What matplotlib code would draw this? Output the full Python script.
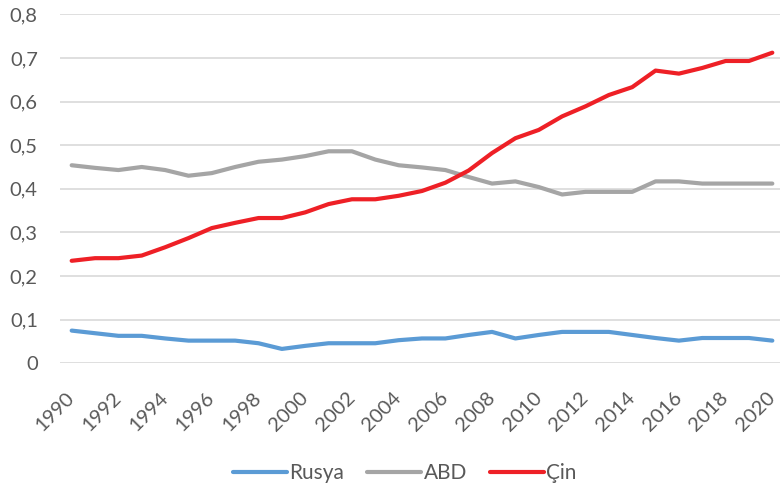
import matplotlib
matplotlib.use("Agg")
import matplotlib.pyplot as plt
from matplotlib.ticker import FuncFormatter

years = list(range(1990, 2021))
rusya = [0.075, 0.069, 0.063, 0.063, 0.057, 0.052, 0.052, 0.052, 0.046, 0.033,
         0.040, 0.046, 0.046, 0.046, 0.053, 0.057, 0.057, 0.065, 0.072, 0.057,
         0.065, 0.072, 0.072, 0.072, 0.065, 0.058, 0.052, 0.058, 0.058, 0.058, 0.052]
abd = [0.454, 0.448, 0.443, 0.450, 0.443, 0.430, 0.436, 0.450, 0.462, 0.467,
       0.475, 0.486, 0.486, 0.467, 0.454, 0.449, 0.443, 0.427, 0.412, 0.417,
       0.404, 0.387, 0.393, 0.393, 0.393, 0.417, 0.417, 0.412, 0.412, 0.412, 0.412]
cin = [0.235, 0.241, 0.241, 0.247, 0.266, 0.287, 0.310, 0.322, 0.333, 0.333,
       0.346, 0.365, 0.376, 0.376, 0.384, 0.395, 0.414, 0.442, 0.482, 0.516,
       0.535, 0.566, 0.589, 0.615, 0.633, 0.671, 0.664, 0.677, 0.693, 0.693, 0.712]

plt.rcParams['font.family'] = ['Lato', 'DejaVu Sans']
TXT = '#595959'

fig = plt.figure(figsize=(7.8, 4.88), dpi=100)
ax = fig.add_axes([60 / 780, 0.2555, 724 / 780, 0.7152])

lw = 3.0
ax.plot(years, rusya, color='#5B9BD5', lw=lw, label='Rusya', solid_capstyle='round', solid_joinstyle='round')
ax.plot(years, abd, color='#A5A5A5', lw=lw, label='ABD', solid_capstyle='round', solid_joinstyle='round')
ax.plot(years, cin, color='#EE2026', lw=lw, label='Çin', solid_capstyle='round', solid_joinstyle='round')

ax.set_xlim(1989.5, 2020.5)
ax.set_ylim(0, 0.8)
ax.set_yticks([i / 10 for i in range(9)])
ax.yaxis.set_major_formatter(FuncFormatter(lambda v, p: '0' if v == 0 else ('%.1f' % v).replace('.', ',')))
ax.set_xticks(years[::2])
ax.set_xticklabels([str(y) for y in years[::2]], rotation=45, ha='right', va='center',
                   rotation_mode='anchor')

ax.grid(axis='y', color='#D9D9D9', lw=1.2)
ax.set_axisbelow(True)
for s in ax.spines.values():
    s.set_visible(False)
ax.tick_params(axis='both', length=0, labelsize=14.5, labelcolor=TXT)
ax.tick_params(axis='y', pad=16)
ax.tick_params(axis='x', pad=23)

fig.legend(loc='center', bbox_to_anchor=(0.519, 1 - 473 / 488), ncol=3, frameon=False,
           fontsize=15, labelcolor=TXT, handlelength=2.6, handletextpad=0.1,
           columnspacing=1.1)

fig.savefig('out.png', dpi=100)
